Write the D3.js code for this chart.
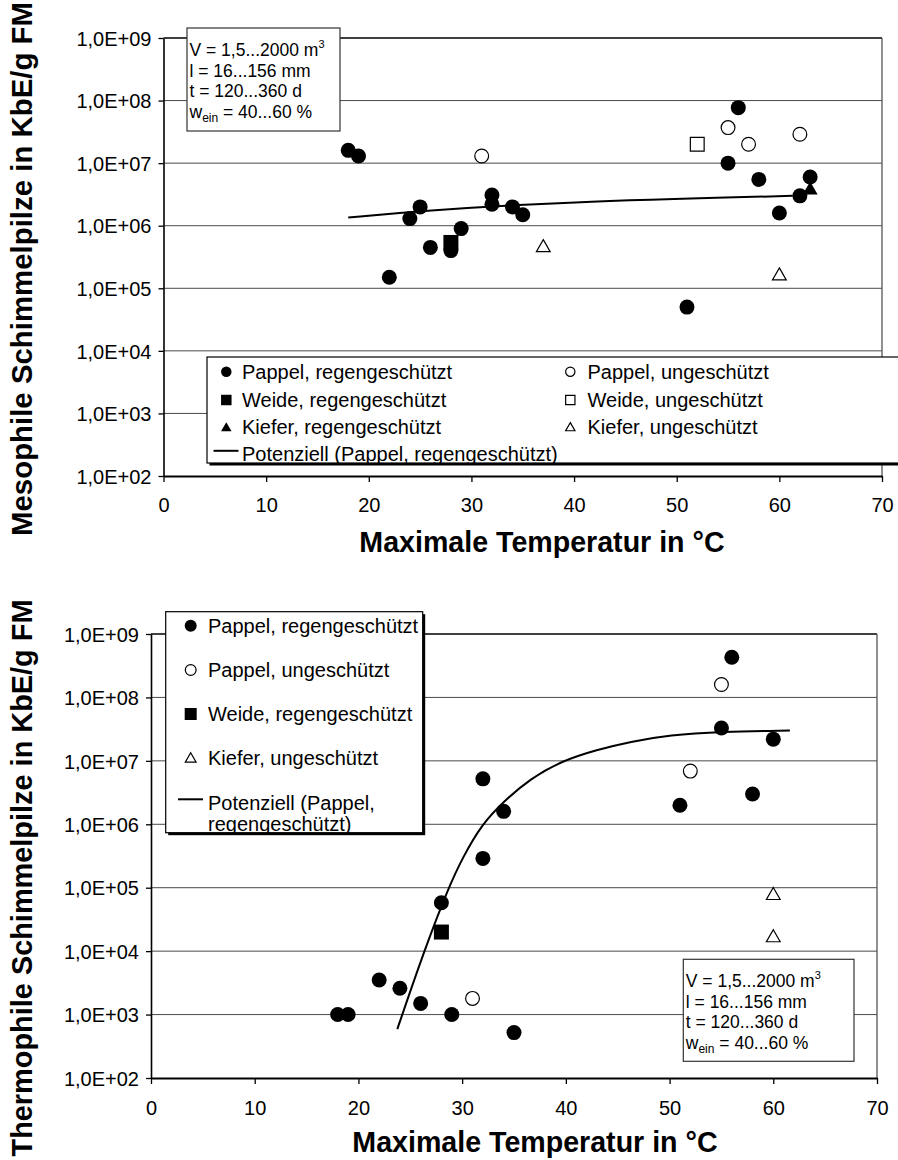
<!DOCTYPE html>
<html><head><meta charset="utf-8">
<script src="https://cdn.jsdelivr.net/npm/d3@7"></script>
<style>
body{margin:0;background:#fff}
svg{display:block}
</style>
</head><body><div id="chart"></div>
<script>
// ---------------- DATA ----------------
const xTicks = [0, 10, 20, 30, 40, 50, 60, 70];
const yTicks = [1e2, 1e3, 1e4, 1e5, 1e6, 1e7, 1e8, 1e9];

// Mesophile (top chart): [Maximale Temperatur °C, KbE/g FM]
const mesoPappelRegen = [[18,1.6e7],[19,1.3e7],[22,1.5e5],[24,1.3e6],[25,2.0e6],[26,4.5e5],[28,4.0e5],[29,9.0e5],[32,3.1e6],[32,2.2e6],[34,2.0e6],[35,1.5e6],[51,5.0e4],[55,1.0e7],[56,7.7e7],[58,5.5e6],[60,1.6e6],[62,3.0e6],[63,6.0e6]];
const mesoPappelUnges = [[31,1.3e7],[55,3.7e7],[57,2.0e7],[62,2.9e7]];
const mesoWeideRegen  = [[28,5.4e5]];
const mesoWeideUnges  = [[52,2.0e7]];
const mesoKieferRegen = [[63,4.0e6]];
const mesoKieferUnges = [[37,4.8e5],[60,1.7e5]];
const mesoTrend       = [[18,1.35e6],[25,1.73e6],[38.6,2.4e6],[61.3,3.0e6]];
const mesoLegend = ["Pappel, regengeschützt","Pappel, ungeschützt","Weide, regengeschützt","Weide, ungeschützt","Kiefer, regengeschützt","Kiefer, ungeschützt","Potenziell (Pappel, regengeschützt)"];

// Thermophile (bottom chart)
const thermoPappelRegen = [[18,1e3],[19,1e3],[22,3.5e3],[24,2.6e3],[26,1.5e3],[28,5.8e4],[29,1e3],[32,5.2e6],[32,2.9e5],[34,1.6e6],[35,5.2e2],[51,2.0e6],[55,3.3e7],[56,4.3e8],[58,3.0e6],[60,2.2e7]];
const thermoPappelUnges = [[31,1.8e3],[52,6.9e6],[55,1.6e8]];
const thermoWeideRegen  = [[28,2.0e4]];
const thermoKieferUnges = [[60,8.1e4],[60,1.75e4]];
const thermoTrend = [[23.75,590],[24.23,1e3],[26.33,1e4],[28.67,1e5],[30.1,3.1e5],[31.9,1e6],[34.0,2.3e6],[36.55,5.2e6],[39.6,1e7],[43.0,1.5e7],[46.2,2.0e7],[50,2.57e7],[55,2.88e7],[61.6,3.02e7]];
const thermoLegend = ["Pappel, regengeschützt","Pappel, ungeschützt","Weide, regengeschützt","Kiefer, ungeschützt","Potenziell (Pappel, regengeschützt)"];

const mesoYTitle = "Mesophile Schimmelpilze in KbE/g FM";
const thermoYTitle = "Thermophile Schimmelpilze in KbE/g FM";
const xTitle = "Maximale Temperatur in °C";
const infoLines = ["V = 1,5...2000 m", "l = 16...156 mm", "t = 120...360 d", " = 40...60 %"];

// ---------------- DRAWING ----------------
const FONT = "'Liberation Sans', Arial, Helvetica, sans-serif";
const W = 898, H = 1160;
const svg = d3.select("#chart").append("svg")
  .attr("width", W).attr("height", H)
  .attr("font-family", FONT);

const fmt = d => "1,0E+" + String(Math.round(Math.log10(d))).padStart(2, "0");

function markerD(kind, s) {
  const h = s / 2;
  if (kind.startsWith("circle")) {
    return d3.symbol(d3.symbolCircle, Math.PI * h * h)();
  }
  if (kind.startsWith("square")) {
    return `M${-h},${-h}h${s}v${s}h${-s}Z`;
  }
  const th = s * 0.87 / 2;
  return `M0,${-th}L${h},${th}L${-h},${th}Z`;
}
function drawMarker(sel, kind, s) {
  const filled = kind.endsWith("F");
  sel.attr("d", markerD(kind, filled ? s : s - 1.2))
    .attr("fill", filled ? "#000" : "#fff")
    .attr("stroke", "#000")
    .attr("stroke-width", filled ? 0 : 1.2);
}

function chart(L, series, trend) {
  const g = svg.append("g");
  const x = d3.scaleLinear().domain([0, 70]).range([L.x0, L.x1]);
  const y = d3.scaleLog().domain([1e2, 1e9]).range([L.yBot, L.yTop]);

  // gridlines
  g.append("g").selectAll("line").data(yTicks.filter(v => v > 1e2 && v < 1e9)).join("line")
    .attr("x1", L.x0).attr("x2", L.x1)
    .attr("y1", d => y(d)).attr("y2", d => y(d))
    .attr("stroke", "#4a4a4a").attr("stroke-width", 1);
  // top & right border
  g.append("line").attr("x1", L.x0).attr("x2", L.x1).attr("y1", y(1e9)).attr("y2", y(1e9))
    .attr("stroke", "#000").attr("stroke-width", 1.6);
  g.append("line").attr("x1", L.x1).attr("x2", L.x1).attr("y1", y(1e9)).attr("y2", y(1e2))
    .attr("stroke", "#555").attr("stroke-width", 1.3);

  // axes
  const ya = g.append("g").attr("transform", `translate(${L.x0},0)`)
    .call(d3.axisLeft(y).tickValues(yTicks).tickFormat(fmt).tickSizeInner(5).tickSizeOuter(0).tickPadding(7));
  ya.attr("font-family", FONT).attr("font-size", 20);
  ya.select(".domain").attr("stroke", "#000").attr("stroke-width", 1.6);
  ya.selectAll(".tick line").attr("stroke", "#000").attr("stroke-width", 1.3);
  ya.selectAll("text").attr("fill", "#000").attr("dy", "0.36em");

  const xa = g.append("g").attr("transform", `translate(0,${L.yBot})`)
    .call(d3.axisBottom(x).tickValues(xTicks).tickFormat(d3.format("d")).tickSizeInner(6).tickSizeOuter(0));
  xa.attr("font-family", FONT).attr("font-size", 20);
  xa.select(".domain").attr("stroke", "#000").attr("stroke-width", 2);
  xa.selectAll(".tick line").attr("stroke", "#000").attr("stroke-width", 1.3);
  xa.selectAll("text").attr("fill", "#000").attr("dy", 0).attr("y", L.xLabelDy);

  // markers
  series.forEach(s => {
    g.append("g").selectAll("path").data(s.data).join("path")
      .attr("transform", d => `translate(${x(d[0])},${y(d[1])})`)
      .call(drawMarker, s.kind, 15);
  });
  // trend line
  g.append("path").datum(trend)
    .attr("d", d3.line().x(d => x(d[0])).y(d => y(d[1])).curve(d3.curveBasis))
    .attr("fill", "none").attr("stroke", "#000").attr("stroke-width", 2);

  // titles
  g.append("text").attr("x", L.xTitleX).attr("y", L.yBot + L.xTitleDy)
    .attr("text-anchor", "middle").attr("font-weight", "bold").attr("font-size", 28.6)
    .text(xTitle);
  g.append("text").attr("transform", `translate(32,${L.yTitleC}) rotate(-90)`)
    .attr("text-anchor", "middle").attr("font-weight", "bold").attr("font-size", L.yTitleSize)
    .text(L.yTitle);

  // info box
  const ib = L.info;
  g.append("rect").attr("x", ib.x).attr("y", ib.y).attr("width", ib.w).attr("height", ib.h)
    .attr("fill", "#fff").attr("stroke", "#333").attr("stroke-width", 1.2);
  infoLines.forEach((t, i) => {
    const tx = g.append("text").attr("x", ib.x + 2.5).attr("y", ib.base + i * ib.lh)
      .attr("font-size", 17.5);
    if (i === 0) {
      tx.append("tspan").text(t);
      tx.append("tspan").attr("font-size", 11).attr("dy", -8).text("3");
    } else if (i === 3) {
      tx.append("tspan").text("w");
      tx.append("tspan").attr("font-size", 12).attr("dy", 4).text("ein");
      tx.append("tspan").attr("dy", -4).text(t);
    } else {
      tx.text(t);
    }
  });
  return g;
}

function legendBox(g, b) {
  g.append("rect").attr("x", b.x + 2.5).attr("y", b.y + 2.5).attr("width", b.w).attr("height", b.h).attr("fill", "#000");
  g.append("rect").attr("x", b.x).attr("y", b.y).attr("width", b.w).attr("height", b.h)
    .attr("fill", "#fff").attr("stroke", "#000").attr("stroke-width", 1.2);
}

// ---------- Top chart ----------
const topKinds = ["circleF", "circleO", "squareF", "squareO", "triF", "triO"];
const gTop = chart({
  x0: 163.5, x1: 882, yTop: 38, yBot: 476, xLabelDy: 36, xTitleDy: 76, xTitleX: 542,
  yTitle: mesoYTitle, yTitleC: 269, yTitleSize: 29.4,
  info: { x: 187, y: 28, w: 153, h: 103, base: 56, lh: 20.5 }
}, [
  { data: mesoPappelRegen, kind: "circleF" },
  { data: mesoPappelUnges, kind: "circleO" },
  { data: mesoWeideRegen, kind: "squareF" },
  { data: mesoWeideUnges, kind: "squareO" },
  { data: mesoKieferRegen, kind: "triF" },
  { data: mesoKieferUnges, kind: "triO" }
], mesoTrend);

{
  const lg = gTop.append("g");
  legendBox(lg, { x: 207, y: 357, w: 720, h: 106 });
  const rowsC = [371.7, 400, 426.7, 453.3];
  mesoLegend.forEach((lab, i) => {
    const col = i === 6 ? 0 : i % 2;
    const row = i === 6 ? 3 : Math.floor(i / 2);
    const mx = col === 0 ? 226.3 : 570.3;
    const tx = col === 0 ? 242 : 587.5;
    const cy = rowsC[row];
    if (i === 6) {
      lg.append("line").attr("x1", 213.5).attr("x2", 238.5).attr("y1", cy - 2.5).attr("y2", cy - 2.5)
        .attr("stroke", "#000").attr("stroke-width", 2);
    } else {
      lg.append("path").attr("transform", `translate(${mx},${cy})`).call(drawMarker, topKinds[i], 10.5);
    }
    lg.append("text").attr("x", tx).attr("y", cy + 7.2).attr("font-size", 20).text(lab);
  });
}

// ---------- Bottom chart ----------
const botKinds = ["circleF", "circleO", "squareF", "triO"];
const gBot = chart({
  x0: 151, x1: 877, yTop: 634, yBot: 1078, xLabelDy: 37, xTitleDy: 74, xTitleX: 535,
  yTitle: thermoYTitle, yTitleC: 878, yTitleSize: 28.9,
  info: { x: 683.3, y: 959.3, w: 170.7, h: 102, base: 986.7, lh: 20.8 }
}, [
  { data: thermoPappelRegen, kind: "circleF" },
  { data: thermoPappelUnges, kind: "circleO" },
  { data: thermoWeideRegen, kind: "squareF" },
  { data: thermoKieferUnges, kind: "triO" }
], thermoTrend);

{
  const lg = gBot.append("g");
  legendBox(lg, { x: 165.7, y: 611.7, w: 257, h: 221 });
  const rowsC = [625.7, 670, 714, 757.5, 802.5];
  thermoLegend.forEach((lab, i) => {
    const cy = rowsC[i];
    if (i === 4) {
      lg.append("line").attr("x1", 178).attr("x2", 203).attr("y1", 799.3).attr("y2", 799.3)
        .attr("stroke", "#000").attr("stroke-width", 2);
      const lines = lab.split(/(?<=,) /);
      lines.forEach((ln, k) => {
        lg.append("text").attr("x", 208).attr("y", 810 + k * 21).attr("font-size", 20).text(ln);
      });
    } else {
      lg.append("path").attr("transform", `translate(190.7,${cy})`).call(drawMarker, botKinds[i], 12);
      lg.append("text").attr("x", 208).attr("y", cy + 7.3).attr("font-size", 20).text(lab);
    }
  });
}
</script>
</body></html>
